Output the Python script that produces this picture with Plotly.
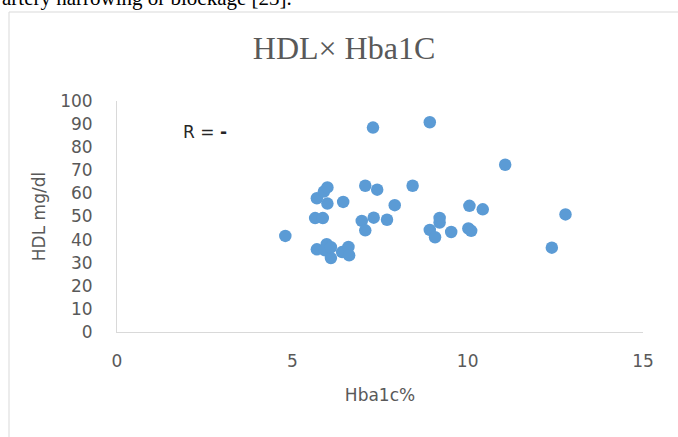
import plotly.graph_objects as go

# Hba1c (%) vs HDL (mg/dl)
hba1c = [4.8, 5.65, 5.87, 5.7, 5.9, 6.0, 6.0, 6.45, 7.08, 7.42,
         8.43, 7.92, 6.98, 7.32, 7.7, 7.08, 7.3, 8.92, 11.07, 12.79,
         12.4, 8.92, 9.2, 9.2, 9.07, 9.53, 10.05, 10.43, 10.02, 10.1,
         5.7, 5.98, 5.93, 6.1, 6.42, 6.6, 6.62, 6.1]
hdl = [41.6, 49.3, 49.3, 57.9, 60.8, 62.6, 55.6, 56.3, 63.3, 61.6,
       63.3, 54.9, 48.1, 49.5, 48.6, 44.0, 88.5, 90.8, 72.4, 50.9,
       36.5, 44.2, 49.4, 47.4, 41.0, 43.3, 54.6, 53.1, 44.8, 43.8,
       35.8, 38.0, 35.4, 32.0, 34.6, 36.8, 33.2, 36.7]

x_ticks = [0, 5, 10, 15]
y_ticks = list(range(0, 101, 10))

grey = "#595959"
axis_font = dict(family="DejaVu Sans", size=17, color=grey)

fig = go.Figure()
fig.add_trace(go.Scatter(x=hba1c, y=hdl, mode="markers",
                         marker=dict(size=12.5, color="#5b9bd5", line=dict(width=0)),
                         showlegend=False, cliponaxis=False))

fig.update_layout(
    width=678, height=437,
    margin=dict(l=117, r=35, t=101, b=105, autoexpand=False),
    paper_bgcolor="white", plot_bgcolor="white",
    title=dict(text="HDL× Hba1C", x=344 / 678, xref="container", xanchor="center",
               y=1 - 48 / 437, yanchor="middle",
               font=dict(family="Liberation Serif", size=32, color=grey)),
)

fig.update_xaxes(range=[0, 15], tickvals=x_ticks, showgrid=False, zeroline=False,
                 showline=True, linecolor="#d9d9d9", linewidth=1, automargin=False,
                 tickfont=axis_font, ticklabelstandoff=14,
                 title=dict(text="Hba1c%", font=axis_font, standoff=18))
fig.update_yaxes(range=[0, 100], tickvals=y_ticks, showgrid=False, zeroline=False,
                 showline=True, linecolor="#d9d9d9", linewidth=1, automargin=False,
                 tickfont=axis_font, ticklabelstandoff=20,
                 title=dict(text="HDL mg/dl", font=axis_font, standoff=10))

# R annotation
fig.add_annotation(x=(181 - 117) / 526, y=(332 - 132) / 231, xref="paper", yref="paper",
                   xanchor="left", yanchor="middle", showarrow=False,
                   text="R = <b>-</b>", font=dict(family="DejaVu Sans", size=17, color="#262626"))

# chart frame
fig.add_shape(type="rect", xref="paper", yref="paper",
              x0=(9 - 117) / 526, x1=(700 - 117) / 526, y0=-0.6, y1=(332 - 12) / 231,
              line=dict(color="#d9d9d9", width=1))

# cut-off sentence from the page above the chart
fig.add_annotation(x=(0 - 117) / 526, y=(332 - 12) / 231, xref="paper", yref="paper",
                   xanchor="left", yanchor="bottom", showarrow=False,
                   text="artery narrowing or blockage [23].",
                   font=dict(family="Liberation Serif", size=21, color="black"))

fig.write_html("out.html", config={"displayModeBar": False},
               post_script="document.body.style.margin='0';")
